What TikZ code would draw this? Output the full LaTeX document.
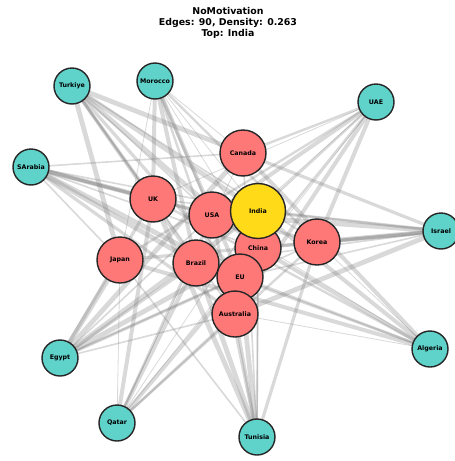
\documentclass[tikz,border=0pt]{standalone}
\usepackage{fontspec}
\setmainfont{DejaVu Sans}
\usetikzlibrary{backgrounds}

\definecolor{nodered}{HTML}{FF7878}
\definecolor{nodeteal}{HTML}{5FD2CA}
\definecolor{nodegold}{HTML}{FFDA19}

\begin{document}
\begin{tikzpicture}[x=1pt,y=-1pt,
    country/.style={circle,draw=black!85,line width=1.4pt,inner sep=0pt,
        font=\fontsize{6.3}{7}\selectfont\bfseries},
    big/.style={country,fill=nodered,minimum size=46pt},
    small/.style={country,fill=nodeteal,minimum size=36pt},
    top/.style={country,fill=nodegold,minimum size=55pt},
    link/.style={draw=gray,opacity=0.3,line cap=round}]
    \useasboundingbox (0,0) rectangle (455,461);

    \node[align=center,font=\fontsize{9.4}{11.2}\selectfont\bfseries] (title) at (228,23)
        {NoMotivation\\Edges: 90, Density: 0.263\\Top: India};

    % outer ring
    \node[small] (Turkiye) at (72,86) {Turkiye};
    \node[small] (Morocco) at (155,81) {Morocco};
    \node[small] (SArabia) at (31,167) {SArabia};
    \node[small] (UAE) at (376,102) {UAE};
    \node[small] (Israel) at (441,231) {Israel};
    \node[small] (Algeria) at (430,349) {Algeria};
    \node[small] (Egypt) at (60,358) {Egypt};
    \node[small] (Qatar) at (117,423) {Qatar};
    \node[small] (Tunisia) at (257,437) {Tunisia};

    % inner group
    \node[big] (Canada) at (243,153) {Canada};
    \node[big] (UK) at (153,199) {UK};
    \node[big] (USA) at (212,215) {USA};
    \node[big] (Japan) at (120,260) {Japan};
    \node[big] (Brazil) at (196,263) {Brazil};
    \node[big] (Korea) at (317,242) {Korea};
    \node[big] (China) at (258,248) {China};
    \node[big] (EU) at (240,277) {EU};
    \node[big] (Australia) at (235,314) {Australia};
    \node[top] (India) at (258,211) {India};

    \begin{scope}[on background layer]
        \foreach \s [count=\i] in {Turkiye,Morocco,SArabia,UAE,Israel,Algeria,Egypt,Qatar,Tunisia}
            \foreach \t [count=\j] in {Canada,UK,USA,Japan,Brazil,Korea,China,EU,Australia,India}
            {
                \pgfmathsetmacro\w{0.8+mod(\i*7+\j*4,6)*0.8}
                \draw[link,line width=\w pt] (\s.center) -- (\t.center);
            }
    \end{scope}
\end{tikzpicture}
\end{document}
